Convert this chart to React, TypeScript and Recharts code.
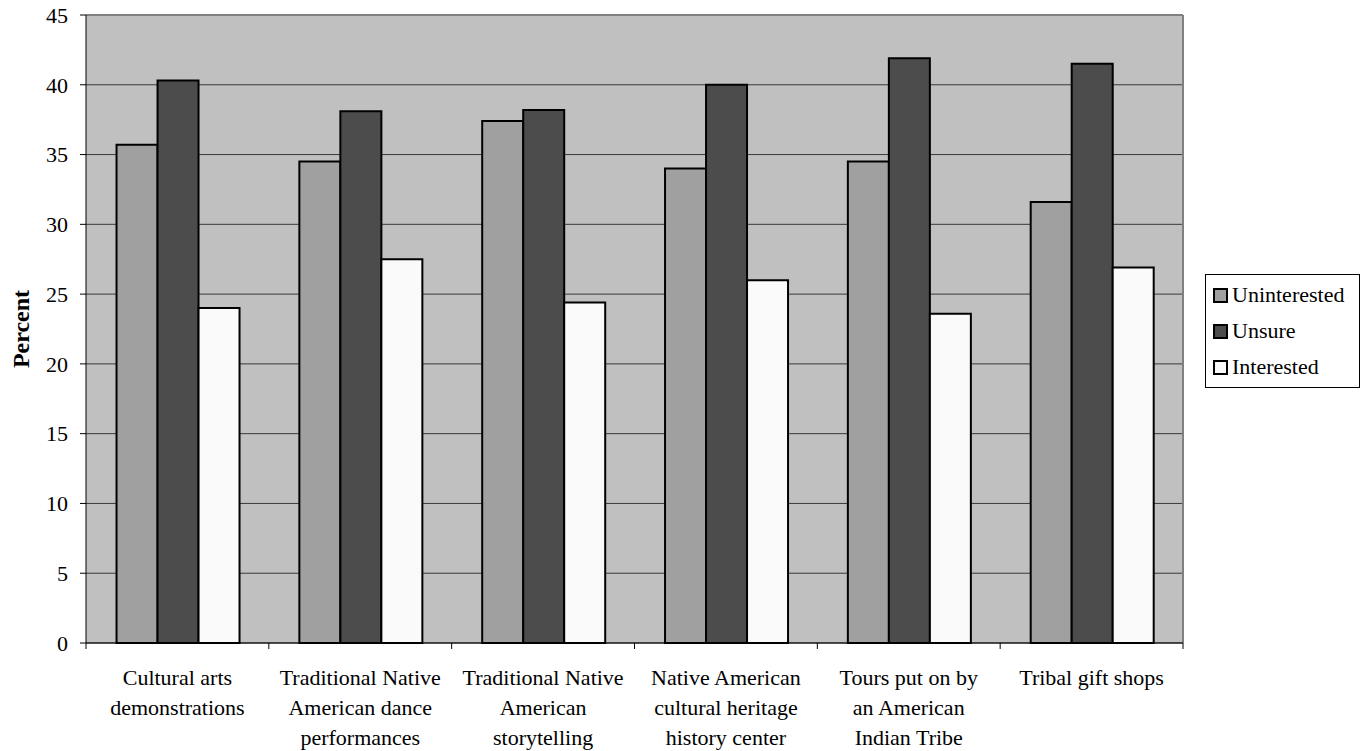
import React from 'react';
import {
  BarChart,
  Bar,
  XAxis,
  YAxis,
  CartesianGrid,
  ReferenceLine,
  Legend,
} from 'recharts';

const categories = [
  'Cultural arts demonstrations',
  'Traditional Native American dance performances',
  'Traditional Native American storytelling',
  'Native American cultural heritage history center',
  'Tours put on by an American Indian Tribe',
  'Tribal gift shops',
];

// wrapped lines for each category label
const categoryLines: string[][] = [
  ['Cultural arts', 'demonstrations'],
  ['Traditional Native', 'American dance', 'performances'],
  ['Traditional Native', 'American', 'storytelling'],
  ['Native American', 'cultural heritage', 'history center'],
  ['Tours put on by', 'an American', 'Indian Tribe'],
  ['Tribal gift shops'],
];

const uninterested = [35.7, 34.5, 37.4, 34.0, 34.5, 31.6];
const unsure = [40.3, 38.1, 38.2, 40.0, 41.9, 41.5];
const interested = [24.0, 27.5, 24.4, 26.0, 23.6, 26.9];

const yTicks = [0, 5, 10, 15, 20, 25, 30, 35, 40, 45];

const seriesInfo = [
  { key: 'Uninterested', color: '#a0a0a0' },
  { key: 'Unsure', color: '#4c4c4c' },
  { key: 'Interested', color: '#fafafa' },
];

const data = categories.map((name, i) => ({
  name,
  Uninterested: uninterested[i],
  Unsure: unsure[i],
  Interested: interested[i],
}));

const FONT = '"Liberation Serif", "Times New Roman", serif';

// category label plus Excel-style tick marks on the band edges
const CategoryTick = (props: any) => {
  const { x, y, payload, index } = props;
  const half = payload.offset ?? 91.4;
  const lines = categoryLines[index] || [payload.value];
  return (
    <g>
      <line x1={x - half} y1={y} x2={x - half} y2={y + 6} stroke="#000" />
      {index === categories.length - 1 && (
        <line x1={x + half} y1={y} x2={x + half} y2={y + 6} stroke="#000" />
      )}
      <text
        x={x}
        y={y + 42}
        textAnchor="middle"
        fontFamily={FONT}
        fontSize={22}
        fill="#000"
      >
        {lines.map((l, i) => (
          <tspan key={i} x={x} dy={i === 0 ? 0 : 30}>
            {l}
          </tspan>
        ))}
      </text>
    </g>
  );
};

const LegendBox = () => (
  <div
    style={{
      border: '1px solid #000',
      background: '#fff',
      width: 155,
      padding: '2px 0 2px 7px',
      fontFamily: FONT,
      fontSize: 22,
      boxSizing: 'border-box',
    }}
  >
    {seriesInfo.map((s) => (
      <div
        key={s.key}
        style={{ display: 'flex', alignItems: 'center', height: 36 }}
      >
        <span
          style={{
            display: 'inline-block',
            width: 11,
            height: 11,
            border: '2px solid #000',
            background: s.color,
            marginRight: 4,
          }}
        />
        <span>{s.key}</span>
      </div>
    ))}
  </div>
);

const App: React.FC = () => {
  return (
    <div
      style={{
        position: 'absolute',
        left: 0,
        top: 0,
        width: 1363,
        height: 751,
        background: '#fff',
      }}
    >
      <BarChart
        width={1363}
        height={751}
        data={data}
        margin={{ top: 15, right: 180, bottom: 0, left: 0 }}
        barCategoryGap="16.7%"
        barGap={0}
      >
        <CartesianGrid
          vertical={false}
          fill="#c0c0c0"
          fillOpacity={1}
          stroke="#3a3a3a"
          strokeWidth={1}
        />
        <CartesianGrid
          horizontal={false}
          verticalCoordinatesGenerator={({ offset }: any) => [
            offset.left + offset.width,
          ]}
          stroke="#808080"
          strokeWidth={2}
        />
        <ReferenceLine y={45} stroke="#808080" strokeWidth={2} />
        <XAxis
          dataKey="name"
          height={108}
          interval={0}
          tickLine={false}
          tickSize={0}
          tickMargin={0}
          axisLine={{ stroke: '#000', strokeWidth: 1 }}
          tick={<CategoryTick />}
        />
        <YAxis
          width={86}
          domain={[0, 45]}
          ticks={yTicks}
          interval={0}
          tickSize={6}
          tickMargin={12}
          axisLine={{ stroke: '#000', strokeWidth: 1 }}
          tickLine={{ stroke: '#000' }}
          tick={{ fill: '#000', fontFamily: FONT, fontSize: 22 }}
          label={({ viewBox }: any) => (
            <text
              x={viewBox.x + 21}
              y={viewBox.y + viewBox.height / 2}
              transform={`rotate(-90, ${viewBox.x + 21}, ${viewBox.y + viewBox.height / 2})`}
              textAnchor="middle"
              dominantBaseline="central"
              fontFamily={FONT}
              fontWeight="bold"
              fontSize={24}
              fill="#000"
            >
              Percent
            </text>
          )}
        />
        <Legend
          layout="vertical"
          align="center"
          verticalAlign="middle"
          wrapperStyle={{ left: 1205, top: 274, width: 155 }}
          content={<LegendBox />}
        />
        {seriesInfo.map((s) => (
          <Bar
            key={s.key}
            dataKey={s.key}
            fill={s.color}
            stroke="#000"
            strokeWidth={2}
            isAnimationActive={false}
          />
        ))}
      </BarChart>
    </div>
  );
};

export default App;
